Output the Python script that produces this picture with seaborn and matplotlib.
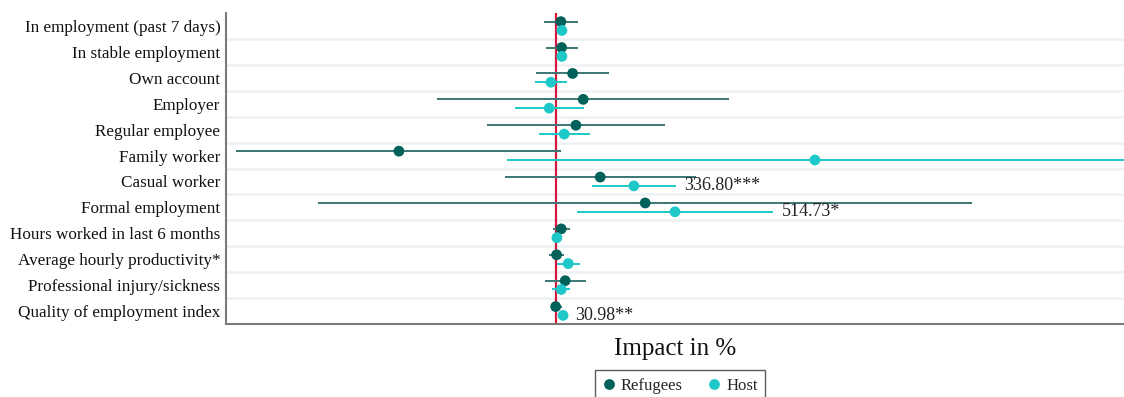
import numpy as np
import pandas as pd
import matplotlib
matplotlib.use("Agg")
import matplotlib.pyplot as plt
import seaborn as sns

outcomes = ["In employment (past 7 days)", "In stable employment", "Own account", "Employer",
            "Regular employee", "Family worker", "Casual worker", "Formal employment",
            "Hours worked in last 6 months", "Average hourly productivity*",
            "Professional injury/sickness", "Quality of employment index"]

# impact in % (point estimate, lower and upper bound of the interval)
ref_est = [21.6, 24.6, 72.2, 118.0, 86.4, -678.5, 191.4, 385.9, 22.9, 3.0, 40.2, -1.0]
ref_lo = [-51.9, -43.2, -86.4, -513.0, -299.5, -1382.9, -220.4, -1028.5, -14.3, -30.3, -47.5, -22.9]
ref_hi = [95.1, 95.1, 230.3, 748.9, 471.0, 21.6, 605.0, 1799.0, 60.5, 35.9, 128.3, 24.6]

host_est = [25.9, 25.9, -21.6, -29.0, 35.9, 1119.3, 336.80, 514.73, 4.3, 53.2, 22.9, 30.98]
host_lo = [15.0, 15.0, -90.8, -177.2, -72.2, -213.1, 156.9, 92.0, -13.0, 5.6, -16.0, 17.0]
host_hi = [37.0, 37.0, 46.2, 121.0, 146.9, 2700.0, 518.6, 939.1, 21.6, 103.7, 61.8, 47.0]

# significant host effects that get a label
host_labels = {"Casual worker": "336.80***", "Formal employment": "514.73*",
               "Quality of employment index": "30.98**"}

groups = ["Refugees", "Host"]
dark = "#00605a"
cyan = "#1ec8c8"

sns.set_theme(style="white")
plt.rcParams["font.family"] = ["Liberation Serif", "DejaVu Serif"]

ypos = np.arange(len(outcomes))
off = 0.17
df = pd.concat([
    pd.DataFrame({"y": ypos - off, "est": ref_est, "lo": ref_lo, "hi": ref_hi, "group": groups[0]}),
    pd.DataFrame({"y": ypos + off, "est": host_est, "lo": host_lo, "hi": host_hi, "group": groups[1]}),
])

fig = plt.figure(figsize=(11.24, 3.97), dpi=100)
ax = fig.add_axes([0.201, 0.184, 0.799, 0.783])

for y in ypos[:-1] + 0.5:
    ax.axhline(y, color="#edf1f4", lw=1.8, zorder=0)

ax.axvline(0, color="#d4173e", lw=1.6, zorder=1)

line_cols = {"Refugees": "#3a7773", "Host": cyan}
for g, sub in df.groupby("group"):
    ax.hlines(sub["y"], sub["lo"], sub["hi"], color=line_cols[g], lw=1.4, zorder=2)

sns.scatterplot(data=df, x="est", y="y", hue="group", hue_order=groups,
                palette=[dark, cyan], s=60, edgecolor="none", zorder=3,
                ax=ax, legend=True)

for name, txt in host_labels.items():
    i = outcomes.index(name)
    ax.annotate(txt, xy=(host_hi[i], i + off), xytext=(6, 0), textcoords="offset points",
                va="center", ha="left", fontsize=13, color="#222222")

ax.set_xlim(-1426, 2455)
ax.set_ylim(len(outcomes) - 0.5, -0.5)
ax.set_yticks(ypos)
ax.set_yticklabels(outcomes, fontsize=12.3, color="#111111")
ax.set_xticks([])
ax.tick_params(axis="y", length=0, pad=4)
ax.set_ylabel("")
ax.set_xlabel("Impact in %", fontsize=18, labelpad=10, color="#111111")

for side in ["top", "right"]:
    ax.spines[side].set_visible(False)
for side in ["left", "bottom"]:
    ax.spines[side].set_color("#7a7a7a")
    ax.spines[side].set_linewidth(1.5)

handles, labels = ax.get_legend_handles_labels()
ax.legend_.remove()
leg = fig.legend(handles, labels, loc="upper center", bbox_to_anchor=(0.605, 0.068),
                 ncol=2, frameon=True, fancybox=False, fontsize=12, handlelength=0.8,
                 handletextpad=0.3, columnspacing=1.5, borderpad=0.45, borderaxespad=0)
leg.get_frame().set_edgecolor("#333333")
leg.get_frame().set_linewidth(1.0)

fig.savefig("out.png", dpi=100)
